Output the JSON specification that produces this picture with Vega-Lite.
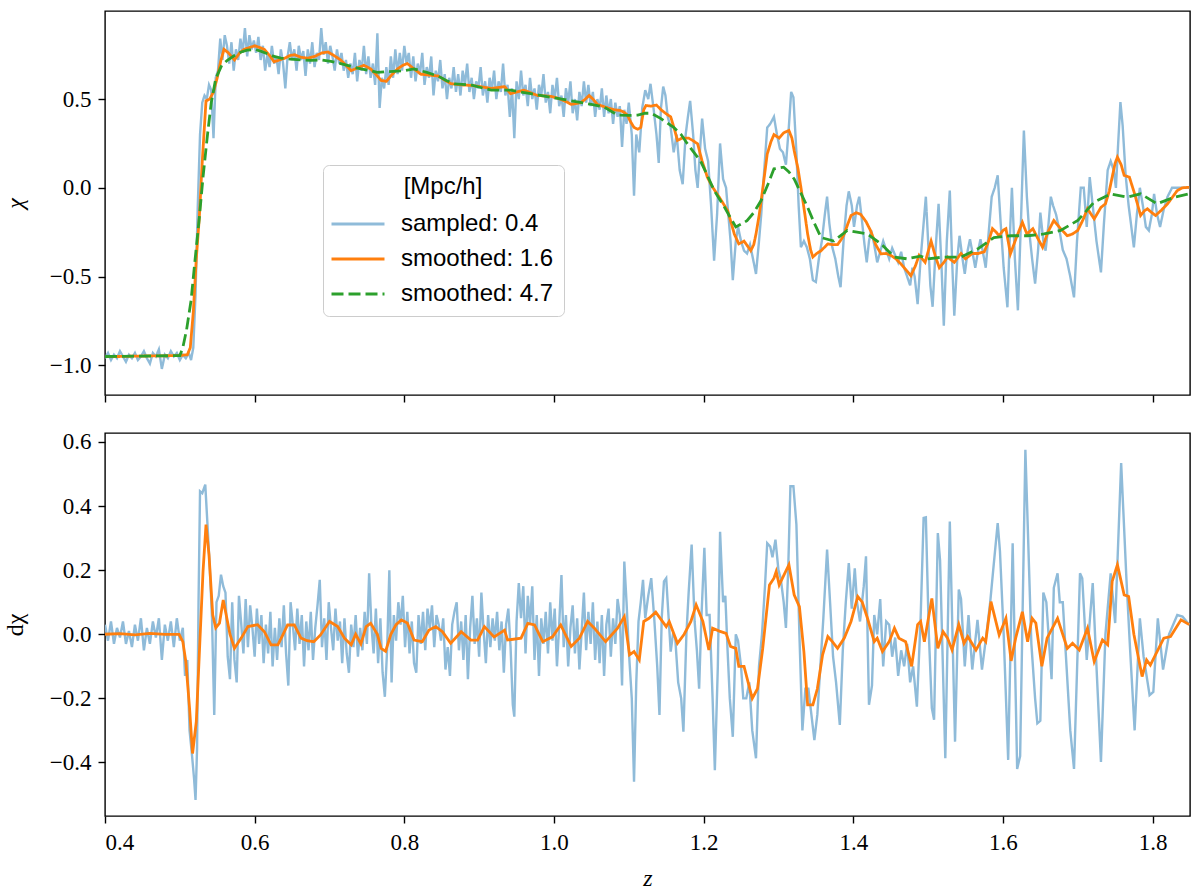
{
  "$schema": "https://vega.github.io/schema/vega-lite/v6.json",
  "padding": {"left": 2, "top": 10, "right": 0, "bottom": 0},
  "bounds": "flush",
  "spacing": 38,
  "datasets": {
    "tb": [
      {"z":0.400,"v":-0.96},{"z":0.404,"v":-0.93},{"z":0.408,"v":-0.97},{"z":0.412,"v":-0.94},{"z":0.416,"v":-0.96},{"z":0.420,"v":-0.92},
      {"z":0.424,"v":-0.95},{"z":0.428,"v":-0.98},{"z":0.432,"v":-0.94},{"z":0.436,"v":-0.96},{"z":0.440,"v":-0.93},{"z":0.444,"v":-0.97},
      {"z":0.448,"v":-0.95},{"z":0.452,"v":-0.92},{"z":0.456,"v":-0.96},{"z":0.460,"v":-0.99},{"z":0.464,"v":-0.93},{"z":0.468,"v":-0.95},
      {"z":0.472,"v":-0.91},{"z":0.476,"v":-1.02},{"z":0.480,"v":-0.94},{"z":0.484,"v":-0.96},{"z":0.488,"v":-0.92},{"z":0.492,"v":-0.95},
      {"z":0.496,"v":-0.93},{"z":0.500,"v":-0.97},{"z":0.504,"v":-0.94},{"z":0.508,"v":-0.96},{"z":0.512,"v":-0.93},{"z":0.515,"v":-0.97},
      {"z":0.518,"v":-0.90},{"z":0.521,"v":-0.60},{"z":0.524,"v":-0.10},{"z":0.527,"v":0.30},{"z":0.530,"v":0.48},{"z":0.533,"v":0.52},
      {"z":0.536,"v":0.50},{"z":0.539,"v":0.58},{"z":0.542,"v":0.55},{"z":0.545,"v":0.28},{"z":0.548,"v":0.62},{"z":0.551,"v":0.66},
      {"z":0.554,"v":0.84},{"z":0.557,"v":0.72},{"z":0.560,"v":0.86},{"z":0.563,"v":0.80},{"z":0.566,"v":0.70},{"z":0.569,"v":0.82},
      {"z":0.572,"v":0.66},{"z":0.575,"v":0.78},{"z":0.578,"v":0.72},{"z":0.581,"v":0.84},{"z":0.584,"v":0.76},{"z":0.587,"v":0.90},
      {"z":0.590,"v":0.74},{"z":0.593,"v":0.86},{"z":0.596,"v":0.78},{"z":0.599,"v":0.83},{"z":0.602,"v":0.76},{"z":0.605,"v":0.85},
      {"z":0.608,"v":0.72},{"z":0.611,"v":0.80},{"z":0.614,"v":0.66},{"z":0.617,"v":0.75},{"z":0.620,"v":0.68},{"z":0.623,"v":0.80},
      {"z":0.626,"v":0.70},{"z":0.629,"v":0.74},{"z":0.632,"v":0.64},{"z":0.635,"v":0.78},{"z":0.638,"v":0.70},{"z":0.641,"v":0.56},
      {"z":0.644,"v":0.74},{"z":0.647,"v":0.82},{"z":0.650,"v":0.72},{"z":0.653,"v":0.78},{"z":0.656,"v":0.66},{"z":0.659,"v":0.80},
      {"z":0.662,"v":0.72},{"z":0.665,"v":0.77},{"z":0.668,"v":0.63},{"z":0.671,"v":0.78},{"z":0.674,"v":0.70},{"z":0.677,"v":0.82},
      {"z":0.680,"v":0.68},{"z":0.683,"v":0.76},{"z":0.686,"v":0.72},{"z":0.689,"v":0.90},{"z":0.692,"v":0.75},{"z":0.695,"v":0.82},
      {"z":0.698,"v":0.70},{"z":0.701,"v":0.80},{"z":0.704,"v":0.74},{"z":0.707,"v":0.66},{"z":0.710,"v":0.78},{"z":0.713,"v":0.70},
      {"z":0.716,"v":0.76},{"z":0.719,"v":0.66},{"z":0.722,"v":0.72},{"z":0.725,"v":0.62},{"z":0.728,"v":0.70},{"z":0.731,"v":0.64},
      {"z":0.734,"v":0.76},{"z":0.737,"v":0.60},{"z":0.740,"v":0.72},{"z":0.743,"v":0.66},{"z":0.746,"v":0.80},{"z":0.749,"v":0.64},
      {"z":0.752,"v":0.74},{"z":0.755,"v":0.62},{"z":0.758,"v":0.70},{"z":0.761,"v":0.58},{"z":0.764,"v":0.87},{"z":0.767,"v":0.45},
      {"z":0.770,"v":0.62},{"z":0.773,"v":0.56},{"z":0.776,"v":0.68},{"z":0.779,"v":0.58},{"z":0.782,"v":0.74},{"z":0.785,"v":0.62},
      {"z":0.788,"v":0.78},{"z":0.791,"v":0.64},{"z":0.794,"v":0.76},{"z":0.797,"v":0.66},{"z":0.800,"v":0.80},{"z":0.803,"v":0.70},
      {"z":0.806,"v":0.76},{"z":0.809,"v":0.62},{"z":0.812,"v":0.74},{"z":0.815,"v":0.60},{"z":0.818,"v":0.70},{"z":0.821,"v":0.64},
      {"z":0.824,"v":0.76},{"z":0.827,"v":0.58},{"z":0.830,"v":0.68},{"z":0.833,"v":0.62},{"z":0.836,"v":0.74},{"z":0.839,"v":0.52},
      {"z":0.842,"v":0.66},{"z":0.845,"v":0.60},{"z":0.848,"v":0.72},{"z":0.851,"v":0.56},{"z":0.854,"v":0.64},{"z":0.857,"v":0.50},
      {"z":0.860,"v":0.62},{"z":0.863,"v":0.56},{"z":0.866,"v":0.68},{"z":0.869,"v":0.54},{"z":0.872,"v":0.64},{"z":0.875,"v":0.52},
      {"z":0.878,"v":0.66},{"z":0.881,"v":0.58},{"z":0.884,"v":0.70},{"z":0.887,"v":0.54},{"z":0.890,"v":0.62},{"z":0.893,"v":0.50},
      {"z":0.896,"v":0.60},{"z":0.899,"v":0.56},{"z":0.902,"v":0.68},{"z":0.905,"v":0.52},{"z":0.908,"v":0.60},{"z":0.911,"v":0.48},
      {"z":0.914,"v":0.62},{"z":0.917,"v":0.55},{"z":0.920,"v":0.66},{"z":0.923,"v":0.50},{"z":0.926,"v":0.60},{"z":0.929,"v":0.54},
      {"z":0.932,"v":0.70},{"z":0.935,"v":0.52},{"z":0.938,"v":0.58},{"z":0.941,"v":0.40},{"z":0.944,"v":0.56},{"z":0.947,"v":0.28},
      {"z":0.950,"v":0.60},{"z":0.953,"v":0.50},{"z":0.956,"v":0.66},{"z":0.959,"v":0.52},{"z":0.962,"v":0.58},{"z":0.965,"v":0.46},
      {"z":0.968,"v":0.62},{"z":0.971,"v":0.50},{"z":0.974,"v":0.56},{"z":0.977,"v":0.44},{"z":0.980,"v":0.58},{"z":0.983,"v":0.52},
      {"z":0.986,"v":0.64},{"z":0.989,"v":0.48},{"z":0.992,"v":0.54},{"z":0.995,"v":0.42},{"z":0.998,"v":0.58},{"z":1.001,"v":0.50},
      {"z":1.004,"v":0.62},{"z":1.007,"v":0.46},{"z":1.010,"v":0.52},{"z":1.013,"v":0.40},{"z":1.016,"v":0.56},{"z":1.019,"v":0.48},
      {"z":1.022,"v":0.60},{"z":1.025,"v":0.42},{"z":1.028,"v":0.50},{"z":1.031,"v":0.38},{"z":1.034,"v":0.54},{"z":1.037,"v":0.46},
      {"z":1.040,"v":0.60},{"z":1.043,"v":0.48},{"z":1.046,"v":0.58},{"z":1.049,"v":0.46},{"z":1.052,"v":0.54},{"z":1.055,"v":0.40},
      {"z":1.058,"v":0.50},{"z":1.061,"v":0.44},{"z":1.064,"v":0.56},{"z":1.067,"v":0.40},{"z":1.070,"v":0.52},{"z":1.073,"v":0.42},
      {"z":1.076,"v":0.50},{"z":1.079,"v":0.36},{"z":1.082,"v":0.48},{"z":1.085,"v":0.40},{"z":1.088,"v":0.46},{"z":1.091,"v":0.23},
      {"z":1.094,"v":0.44},{"z":1.097,"v":0.36},{"z":1.100,"v":0.48},{"z":1.104,"v":0.30},{"z":1.107,"v":-0.045},{"z":1.110,"v":0.30},
      {"z":1.114,"v":0.20},{"z":1.118,"v":0.45},{"z":1.122,"v":0.55},{"z":1.126,"v":0.50},{"z":1.129,"v":0.586},{"z":1.133,"v":0.45},
      {"z":1.137,"v":0.30},{"z":1.140,"v":0.14},{"z":1.143,"v":0.45},{"z":1.146,"v":0.57},{"z":1.149,"v":0.52},{"z":1.152,"v":0.40},
      {"z":1.156,"v":0.34},{"z":1.160,"v":0.20},{"z":1.164,"v":0.30},{"z":1.168,"v":0.10},{"z":1.172,"v":0.02},{"z":1.176,"v":0.30},
      {"z":1.179,"v":0.40},{"z":1.182,"v":0.49},{"z":1.186,"v":0.30},{"z":1.189,"v":0.10},{"z":1.192,"v":0.00},{"z":1.195,"v":0.20},
      {"z":1.198,"v":0.39},{"z":1.202,"v":0.22},{"z":1.206,"v":0.15},{"z":1.210,"v":-0.10},{"z":1.214,"v":-0.41},{"z":1.218,"v":-0.15},
      {"z":1.222,"v":0.25},{"z":1.226,"v":0.05},{"z":1.230,"v":0.00},{"z":1.233,"v":-0.15},{"z":1.236,"v":-0.30},{"z":1.239,"v":-0.52},
      {"z":1.243,"v":-0.30},{"z":1.246,"v":-0.22},{"z":1.250,"v":-0.30},{"z":1.254,"v":-0.354},{"z":1.258,"v":-0.37},{"z":1.262,"v":-0.32},
      {"z":1.266,"v":-0.40},{"z":1.270,"v":-0.485},{"z":1.274,"v":-0.30},{"z":1.277,"v":-0.15},{"z":1.281,"v":0.10},{"z":1.285,"v":0.34},
      {"z":1.289,"v":0.36},{"z":1.294,"v":0.40},{"z":1.298,"v":0.30},{"z":1.302,"v":0.22},{"z":1.306,"v":0.20},{"z":1.310,"v":0.13},
      {"z":1.314,"v":0.35},{"z":1.317,"v":0.54},{"z":1.320,"v":0.51},{"z":1.324,"v":0.20},{"z":1.327,"v":-0.10},{"z":1.330,"v":-0.335},
      {"z":1.334,"v":-0.30},{"z":1.338,"v":-0.335},{"z":1.342,"v":-0.40},{"z":1.346,"v":-0.52},{"z":1.350,"v":-0.53},{"z":1.354,"v":-0.40},
      {"z":1.358,"v":-0.30},{"z":1.362,"v":-0.15},{"z":1.365,"v":-0.05},{"z":1.368,"v":-0.20},{"z":1.372,"v":-0.335},{"z":1.376,"v":-0.40},
      {"z":1.380,"v":-0.50},{"z":1.383,"v":-0.56},{"z":1.387,"v":-0.30},{"z":1.391,"v":-0.10},{"z":1.394,"v":-0.02},{"z":1.398,"v":-0.10},
      {"z":1.401,"v":-0.22},{"z":1.405,"v":-0.10},{"z":1.408,"v":-0.05},{"z":1.412,"v":-0.20},{"z":1.415,"v":-0.32},{"z":1.418,"v":-0.42},
      {"z":1.421,"v":-0.30},{"z":1.424,"v":-0.24},{"z":1.428,"v":-0.32},{"z":1.432,"v":-0.42},{"z":1.436,"v":-0.36},{"z":1.440,"v":-0.30},
      {"z":1.444,"v":-0.35},{"z":1.448,"v":-0.40},{"z":1.452,"v":-0.34},{"z":1.456,"v":-0.38},{"z":1.460,"v":-0.42},{"z":1.464,"v":-0.36},
      {"z":1.468,"v":-0.45},{"z":1.472,"v":-0.50},{"z":1.476,"v":-0.55},{"z":1.479,"v":-0.45},{"z":1.482,"v":-0.50},{"z":1.486,"v":-0.655},
      {"z":1.490,"v":-0.40},{"z":1.494,"v":-0.20},{"z":1.497,"v":-0.05},{"z":1.500,"v":-0.30},{"z":1.503,"v":-0.55},{"z":1.506,"v":-0.67},
      {"z":1.510,"v":-0.35},{"z":1.514,"v":-0.09},{"z":1.518,"v":-0.45},{"z":1.521,"v":-0.777},{"z":1.525,"v":-0.30},{"z":1.529,"v":-0.015},
      {"z":1.532,"v":-0.40},{"z":1.535,"v":-0.72},{"z":1.539,"v":-0.40},{"z":1.542,"v":-0.27},{"z":1.546,"v":-0.40},{"z":1.549,"v":-0.485},
      {"z":1.553,"v":-0.35},{"z":1.556,"v":-0.29},{"z":1.560,"v":-0.38},{"z":1.563,"v":-0.45},{"z":1.567,"v":-0.35},{"z":1.570,"v":-0.29},
      {"z":1.574,"v":-0.38},{"z":1.577,"v":-0.45},{"z":1.581,"v":-0.25},{"z":1.585,"v":-0.05},{"z":1.589,"v":0.00},{"z":1.593,"v":0.07},
      {"z":1.597,"v":-0.20},{"z":1.601,"v":-0.45},{"z":1.606,"v":-0.673},{"z":1.609,"v":-0.30},{"z":1.612,"v":0.00},{"z":1.616,"v":-0.40},
      {"z":1.620,"v":-0.69},{"z":1.624,"v":-0.20},{"z":1.628,"v":0.323},{"z":1.632,"v":-0.05},{"z":1.635,"v":-0.24},{"z":1.639,"v":-0.40},
      {"z":1.643,"v":-0.54},{"z":1.647,"v":-0.35},{"z":1.650,"v":-0.14},{"z":1.654,"v":-0.30},{"z":1.657,"v":-0.354},{"z":1.661,"v":-0.20},
      {"z":1.664,"v":-0.05},{"z":1.667,"v":-0.10},{"z":1.671,"v":-0.15},{"z":1.676,"v":-0.25},{"z":1.680,"v":-0.35},{"z":1.685,"v":-0.40},
      {"z":1.690,"v":-0.50},{"z":1.695,"v":-0.617},{"z":1.699,"v":-0.30},{"z":1.704,"v":0.00},{"z":1.708,"v":0.00},{"z":1.712,"v":-0.22},
      {"z":1.716,"v":0.06},{"z":1.720,"v":-0.10},{"z":1.725,"v":-0.30},{"z":1.731,"v":-0.476},{"z":1.735,"v":-0.20},{"z":1.740,"v":0.10},
      {"z":1.744,"v":0.15},{"z":1.748,"v":0.10},{"z":1.751,"v":0.00},{"z":1.754,"v":0.25},{"z":1.757,"v":0.483},{"z":1.760,"v":0.35},
      {"z":1.764,"v":0.07},{"z":1.768,"v":-0.10},{"z":1.771,"v":-0.20},{"z":1.775,"v":-0.335},{"z":1.779,"v":-0.15},{"z":1.783,"v":0.00},
      {"z":1.787,"v":-0.10},{"z":1.791,"v":-0.22},{"z":1.795,"v":-0.24},{"z":1.799,"v":-0.15},{"z":1.802,"v":-0.034},{"z":1.806,"v":-0.15},
      {"z":1.810,"v":-0.22},{"z":1.815,"v":-0.12},{"z":1.820,"v":-0.05},{"z":1.826,"v":0.00},{"z":1.833,"v":0.00},{"z":1.840,"v":0.00},
      {"z":1.849,"v":0.00}
    ],
    "to": [
      {"z":0.400,"v":-0.950},{"z":0.420,"v":-0.950},{"z":0.440,"v":-0.948},{"z":0.460,"v":-0.947},{"z":0.480,"v":-0.946},{"z":0.500,"v":-0.945},
      {"z":0.510,"v":-0.940},{"z":0.514,"v":-0.900},{"z":0.518,"v":-0.700},{"z":0.522,"v":-0.400},{"z":0.526,"v":-0.170},{"z":0.530,"v":0.150},
      {"z":0.535,"v":0.490},{"z":0.540,"v":0.500},{"z":0.545,"v":0.540},{"z":0.550,"v":0.620},{"z":0.555,"v":0.720},{"z":0.559,"v":0.780},
      {"z":0.565,"v":0.760},{"z":0.573,"v":0.720},{"z":0.580,"v":0.760},{"z":0.586,"v":0.780},{"z":0.593,"v":0.790},{"z":0.600,"v":0.800},
      {"z":0.607,"v":0.790},{"z":0.613,"v":0.780},{"z":0.620,"v":0.745},{"z":0.626,"v":0.710},{"z":0.633,"v":0.720},{"z":0.640,"v":0.730},
      {"z":0.647,"v":0.745},{"z":0.653,"v":0.750},{"z":0.662,"v":0.735},{"z":0.671,"v":0.730},{"z":0.680,"v":0.740},{"z":0.690,"v":0.760},
      {"z":0.698,"v":0.765},{"z":0.706,"v":0.745},{"z":0.715,"v":0.720},{"z":0.722,"v":0.690},{"z":0.729,"v":0.660},{"z":0.737,"v":0.675},
      {"z":0.746,"v":0.690},{"z":0.755,"v":0.670},{"z":0.762,"v":0.640},{"z":0.769,"v":0.605},{"z":0.776,"v":0.600},{"z":0.784,"v":0.640},
      {"z":0.791,"v":0.670},{"z":0.798,"v":0.690},{"z":0.804,"v":0.700},{"z":0.813,"v":0.670},{"z":0.822,"v":0.640},{"z":0.833,"v":0.635},
      {"z":0.845,"v":0.630},{"z":0.853,"v":0.610},{"z":0.862,"v":0.587},{"z":0.875,"v":0.580},{"z":0.889,"v":0.577},{"z":0.902,"v":0.570},
      {"z":0.916,"v":0.560},{"z":0.925,"v":0.565},{"z":0.934,"v":0.570},{"z":0.942,"v":0.530},{"z":0.951,"v":0.540},{"z":0.960,"v":0.550},
      {"z":0.969,"v":0.535},{"z":0.978,"v":0.520},{"z":0.987,"v":0.518},{"z":0.996,"v":0.515},{"z":1.005,"v":0.505},{"z":1.014,"v":0.490},
      {"z":1.023,"v":0.470},{"z":1.030,"v":0.475},{"z":1.036,"v":0.480},{"z":1.042,"v":0.500},{"z":1.047,"v":0.520},{"z":1.052,"v":0.500},
      {"z":1.058,"v":0.470},{"z":1.065,"v":0.460},{"z":1.072,"v":0.450},{"z":1.080,"v":0.440},{"z":1.089,"v":0.435},{"z":1.094,"v":0.425},
      {"z":1.098,"v":0.410},{"z":1.102,"v":0.375},{"z":1.107,"v":0.340},{"z":1.112,"v":0.330},{"z":1.116,"v":0.340},{"z":1.120,"v":0.440},
      {"z":1.123,"v":0.464},{"z":1.129,"v":0.460},{"z":1.137,"v":0.466},{"z":1.143,"v":0.440},{"z":1.150,"v":0.417},{"z":1.156,"v":0.400},
      {"z":1.161,"v":0.330},{"z":1.165,"v":0.267},{"z":1.171,"v":0.280},{"z":1.180,"v":0.280},{"z":1.186,"v":0.265},{"z":1.192,"v":0.248},
      {"z":1.198,"v":0.150},{"z":1.205,"v":0.060},{"z":1.211,"v":0.010},{"z":1.218,"v":-0.034},{"z":1.225,"v":-0.080},{"z":1.232,"v":-0.128},
      {"z":1.237,"v":-0.200},{"z":1.241,"v":-0.260},{"z":1.247,"v":-0.316},{"z":1.254,"v":-0.300},{"z":1.259,"v":-0.330},{"z":1.263,"v":-0.354},
      {"z":1.267,"v":-0.320},{"z":1.270,"v":-0.260},{"z":1.274,"v":-0.160},{"z":1.277,"v":-0.070},{"z":1.281,"v":0.060},{"z":1.285,"v":0.190},
      {"z":1.290,"v":0.260},{"z":1.294,"v":0.300},{"z":1.301,"v":0.280},{"z":1.307,"v":0.310},{"z":1.314,"v":0.323},{"z":1.318,"v":0.280},
      {"z":1.321,"v":0.210},{"z":1.326,"v":0.110},{"z":1.330,"v":0.003},{"z":1.335,"v":-0.140},{"z":1.339,"v":-0.260},{"z":1.343,"v":-0.350},
      {"z":1.346,"v":-0.390},{"z":1.351,"v":-0.370},{"z":1.357,"v":-0.354},{"z":1.366,"v":-0.316},{"z":1.372,"v":-0.320},{"z":1.379,"v":-0.320},
      {"z":1.384,"v":-0.290},{"z":1.388,"v":-0.260},{"z":1.393,"v":-0.200},{"z":1.397,"v":-0.156},{"z":1.404,"v":-0.140},{"z":1.410,"v":-0.150},
      {"z":1.417,"v":-0.190},{"z":1.423,"v":-0.240},{"z":1.430,"v":-0.320},{"z":1.437,"v":-0.372},{"z":1.444,"v":-0.370},{"z":1.450,"v":-0.380},
      {"z":1.457,"v":-0.400},{"z":1.464,"v":-0.430},{"z":1.470,"v":-0.460},{"z":1.477,"v":-0.495},{"z":1.483,"v":-0.440},{"z":1.488,"v":-0.380},
      {"z":1.496,"v":-0.420},{"z":1.500,"v":-0.360},{"z":1.504,"v":-0.300},{"z":1.510,"v":-0.390},{"z":1.515,"v":-0.450},{"z":1.521,"v":-0.420},
      {"z":1.526,"v":-0.390},{"z":1.535,"v":-0.420},{"z":1.544,"v":-0.370},{"z":1.550,"v":-0.400},{"z":1.559,"v":-0.370},{"z":1.567,"v":-0.370},
      {"z":1.575,"v":-0.360},{"z":1.581,"v":-0.300},{"z":1.586,"v":-0.230},{"z":1.591,"v":-0.250},{"z":1.595,"v":-0.270},{"z":1.600,"v":-0.240},
      {"z":1.604,"v":-0.230},{"z":1.610,"v":-0.372},{"z":1.618,"v":-0.280},{"z":1.626,"v":-0.194},{"z":1.632,"v":-0.260},{"z":1.640,"v":-0.230},
      {"z":1.646,"v":-0.280},{"z":1.653,"v":-0.335},{"z":1.660,"v":-0.250},{"z":1.668,"v":-0.184},{"z":1.677,"v":-0.230},{"z":1.686,"v":-0.270},
      {"z":1.693,"v":-0.260},{"z":1.700,"v":-0.240},{"z":1.707,"v":-0.180},{"z":1.713,"v":-0.118},{"z":1.722,"v":-0.175},{"z":1.731,"v":-0.110},
      {"z":1.737,"v":-0.090},{"z":1.742,"v":-0.020},{"z":1.746,"v":0.060},{"z":1.750,"v":0.140},{"z":1.753,"v":0.173},{"z":1.758,"v":0.130},
      {"z":1.762,"v":0.070},{"z":1.769,"v":0.060},{"z":1.776,"v":-0.034},{"z":1.784,"v":-0.156},{"z":1.789,"v":-0.130},{"z":1.793,"v":-0.118},
      {"z":1.799,"v":-0.140},{"z":1.804,"v":-0.156},{"z":1.812,"v":-0.125},{"z":1.820,"v":-0.090},{"z":1.827,"v":-0.050},{"z":1.833,"v":-0.015},
      {"z":1.840,"v":0.000},{"z":1.849,"v":0.003}
    ],
    "tg": [
      {"z":0.400,"v":-0.950},{"z":0.450,"v":-0.948},{"z":0.500,"v":-0.945},{"z":0.504,"v":-0.900},{"z":0.509,"v":-0.800},{"z":0.515,"v":-0.635},
      {"z":0.520,"v":-0.420},{"z":0.526,"v":-0.170},{"z":0.531,"v":0.060},{"z":0.537,"v":0.300},{"z":0.542,"v":0.480},{"z":0.548,"v":0.615},
      {"z":0.556,"v":0.690},{"z":0.564,"v":0.720},{"z":0.573,"v":0.745},{"z":0.582,"v":0.765},{"z":0.590,"v":0.775},{"z":0.600,"v":0.780},
      {"z":0.608,"v":0.770},{"z":0.617,"v":0.755},{"z":0.626,"v":0.740},{"z":0.635,"v":0.730},{"z":0.648,"v":0.725},{"z":0.662,"v":0.720},
      {"z":0.675,"v":0.718},{"z":0.689,"v":0.720},{"z":0.702,"v":0.712},{"z":0.715,"v":0.700},{"z":0.728,"v":0.685},{"z":0.742,"v":0.670},
      {"z":0.755,"v":0.660},{"z":0.764,"v":0.650},{"z":0.780,"v":0.655},{"z":0.800,"v":0.660},{"z":0.813,"v":0.670},{"z":0.830,"v":0.650},
      {"z":0.845,"v":0.630},{"z":0.856,"v":0.605},{"z":0.867,"v":0.585},{"z":0.889,"v":0.580},{"z":0.902,"v":0.565},{"z":0.916,"v":0.550},
      {"z":0.942,"v":0.550},{"z":0.969,"v":0.530},{"z":0.996,"v":0.510},{"z":1.023,"v":0.490},{"z":1.050,"v":0.470},{"z":1.067,"v":0.455},
      {"z":1.077,"v":0.430},{"z":1.085,"v":0.410},{"z":1.100,"v":0.408},{"z":1.112,"v":0.410},{"z":1.122,"v":0.420},{"z":1.130,"v":0.420},
      {"z":1.143,"v":0.390},{"z":1.160,"v":0.340},{"z":1.170,"v":0.300},{"z":1.178,"v":0.250},{"z":1.187,"v":0.200},{"z":1.196,"v":0.150},
      {"z":1.205,"v":0.070},{"z":1.214,"v":-0.015},{"z":1.228,"v":-0.110},{"z":1.236,"v":-0.170},{"z":1.243,"v":-0.220},{"z":1.250,"v":-0.205},
      {"z":1.258,"v":-0.185},{"z":1.267,"v":-0.140},{"z":1.277,"v":-0.070},{"z":1.286,"v":0.020},{"z":1.294,"v":0.107},{"z":1.307,"v":0.116},
      {"z":1.314,"v":0.090},{"z":1.321,"v":0.050},{"z":1.330,"v":-0.030},{"z":1.339,"v":-0.110},{"z":1.348,"v":-0.200},{"z":1.357,"v":-0.280},
      {"z":1.374,"v":-0.300},{"z":1.392,"v":-0.240},{"z":1.405,"v":-0.250},{"z":1.419,"v":-0.260},{"z":1.437,"v":-0.316},{"z":1.455,"v":-0.390},
      {"z":1.472,"v":-0.400},{"z":1.490,"v":-0.385},{"z":1.499,"v":-0.400},{"z":1.521,"v":-0.390},{"z":1.544,"v":-0.390},{"z":1.566,"v":-0.345},
      {"z":1.588,"v":-0.280},{"z":1.611,"v":-0.270},{"z":1.633,"v":-0.270},{"z":1.655,"v":-0.260},{"z":1.677,"v":-0.240},{"z":1.700,"v":-0.184},
      {"z":1.722,"v":-0.080},{"z":1.744,"v":-0.034},{"z":1.766,"v":-0.053},{"z":1.784,"v":-0.034},{"z":1.806,"v":-0.090},{"z":1.829,"v":-0.053},
      {"z":1.849,"v":-0.034}
    ],
    "bb": [
      {"z":0.400,"v":0.03},{"z":0.404,"v":-0.02},{"z":0.408,"v":0.04},{"z":0.412,"v":-0.03},{"z":0.416,"v":0.02},{"z":0.420,"v":-0.01},
      {"z":0.424,"v":0.04},{"z":0.428,"v":-0.03},{"z":0.432,"v":0.01},{"z":0.436,"v":-0.04},{"z":0.440,"v":0.03},{"z":0.444,"v":-0.02},
      {"z":0.448,"v":0.05},{"z":0.452,"v":-0.05},{"z":0.456,"v":0.02},{"z":0.460,"v":-0.03},{"z":0.464,"v":0.04},{"z":0.468,"v":-0.01},
      {"z":0.472,"v":0.05},{"z":0.476,"v":-0.08},{"z":0.480,"v":0.03},{"z":0.484,"v":-0.02},{"z":0.488,"v":0.04},{"z":0.492,"v":-0.04},
      {"z":0.496,"v":0.05},{"z":0.500,"v":-0.02},{"z":0.504,"v":0.02},{"z":0.507,"v":-0.13},{"z":0.510,"v":-0.08},{"z":0.513,"v":-0.30},
      {"z":0.516,"v":-0.37},{"z":0.519,"v":-0.45},{"z":0.521,"v":-0.517},{"z":0.523,"v":-0.36},{"z":0.525,"v":0.10},{"z":0.527,"v":0.446},
      {"z":0.530,"v":0.44},{"z":0.534,"v":0.467},{"z":0.537,"v":0.34},{"z":0.540,"v":0.21},{"z":0.543,"v":0.05},{"z":0.546,"v":-0.252},
      {"z":0.549,"v":0.10},{"z":0.552,"v":0.12},{"z":0.555,"v":0.186},{"z":0.558,"v":0.15},{"z":0.561,"v":0.13},{"z":0.564,"v":-0.07},
      {"z":0.567,"v":-0.14},{"z":0.570,"v":0.10},{"z":0.573,"v":-0.08},{"z":0.576,"v":-0.15},{"z":0.579,"v":0.12},{"z":0.582,"v":0.035},
      {"z":0.585,"v":-0.06},{"z":0.588,"v":0.11},{"z":0.591,"v":-0.04},{"z":0.594,"v":0.09},{"z":0.597,"v":0.02},{"z":0.600,"v":-0.07},
      {"z":0.603,"v":0.08},{"z":0.606,"v":-0.03},{"z":0.609,"v":0.06},{"z":0.612,"v":-0.09},{"z":0.615,"v":0.03},{"z":0.618,"v":-0.06},
      {"z":0.621,"v":0.07},{"z":0.624,"v":-0.10},{"z":0.627,"v":0.02},{"z":0.630,"v":-0.08},{"z":0.633,"v":0.05},{"z":0.636,"v":-0.04},
      {"z":0.639,"v":0.09},{"z":0.642,"v":-0.06},{"z":0.645,"v":-0.16},{"z":0.648,"v":0.10},{"z":0.651,"v":0.03},{"z":0.654,"v":-0.05},
      {"z":0.657,"v":0.08},{"z":0.660,"v":-0.03},{"z":0.663,"v":0.06},{"z":0.666,"v":-0.10},{"z":0.669,"v":0.04},{"z":0.672,"v":-0.05},
      {"z":0.675,"v":0.07},{"z":0.678,"v":-0.08},{"z":0.681,"v":0.02},{"z":0.684,"v":0.09},{"z":0.687,"v":0.17},{"z":0.690,"v":-0.04},
      {"z":0.693,"v":0.05},{"z":0.696,"v":-0.08},{"z":0.699,"v":0.10},{"z":0.702,"v":0.02},{"z":0.705,"v":-0.05},{"z":0.708,"v":0.08},
      {"z":0.711,"v":-0.02},{"z":0.714,"v":0.04},{"z":0.717,"v":-0.09},{"z":0.720,"v":0.05},{"z":0.723,"v":-0.06},{"z":0.726,"v":-0.12},
      {"z":0.729,"v":0.03},{"z":0.732,"v":-0.04},{"z":0.735,"v":0.06},{"z":0.738,"v":-0.07},{"z":0.741,"v":0.02},{"z":0.744,"v":-0.05},
      {"z":0.747,"v":0.07},{"z":0.750,"v":-0.03},{"z":0.753,"v":0.19},{"z":0.756,"v":0.03},{"z":0.759,"v":-0.06},{"z":0.762,"v":0.08},
      {"z":0.765,"v":-0.09},{"z":0.768,"v":0.05},{"z":0.771,"v":-0.12},{"z":0.774,"v":-0.195},{"z":0.777,"v":-0.05},{"z":0.780,"v":0.20},
      {"z":0.783,"v":-0.15},{"z":0.786,"v":0.06},{"z":0.789,"v":-0.02},{"z":0.792,"v":0.10},{"z":0.795,"v":0.03},{"z":0.798,"v":0.12},
      {"z":0.801,"v":-0.04},{"z":0.804,"v":0.07},{"z":0.807,"v":-0.06},{"z":0.810,"v":0.04},{"z":0.813,"v":-0.09},{"z":0.816,"v":-0.12},
      {"z":0.819,"v":0.06},{"z":0.822,"v":-0.03},{"z":0.825,"v":0.07},{"z":0.828,"v":-0.05},{"z":0.831,"v":0.08},{"z":0.834,"v":0.02},
      {"z":0.837,"v":0.09},{"z":0.840,"v":-0.04},{"z":0.843,"v":0.06},{"z":0.846,"v":0.03},{"z":0.849,"v":-0.02},{"z":0.852,"v":0.05},
      {"z":0.855,"v":-0.11},{"z":0.858,"v":-0.04},{"z":0.861,"v":-0.13},{"z":0.864,"v":0.03},{"z":0.867,"v":0.07},{"z":0.870,"v":0.10},
      {"z":0.873,"v":-0.05},{"z":0.876,"v":0.04},{"z":0.879,"v":-0.08},{"z":0.882,"v":0.06},{"z":0.885,"v":-0.14},{"z":0.888,"v":0.02},
      {"z":0.891,"v":0.12},{"z":0.894,"v":-0.03},{"z":0.897,"v":0.05},{"z":0.900,"v":-0.07},{"z":0.903,"v":0.13},{"z":0.906,"v":0.01},
      {"z":0.909,"v":-0.09},{"z":0.912,"v":0.06},{"z":0.915,"v":-0.04},{"z":0.918,"v":0.05},{"z":0.921,"v":-0.02},{"z":0.924,"v":0.07},
      {"z":0.927,"v":-0.05},{"z":0.930,"v":0.04},{"z":0.933,"v":-0.12},{"z":0.936,"v":0.03},{"z":0.939,"v":0.08},{"z":0.942,"v":-0.04},
      {"z":0.945,"v":-0.22},{"z":0.947,"v":-0.257},{"z":0.950,"v":0.04},{"z":0.953,"v":0.16},{"z":0.956,"v":0.05},{"z":0.959,"v":0.15},
      {"z":0.962,"v":-0.06},{"z":0.965,"v":0.12},{"z":0.968,"v":0.03},{"z":0.971,"v":0.15},{"z":0.974,"v":-0.08},{"z":0.977,"v":0.06},
      {"z":0.980,"v":-0.13},{"z":0.983,"v":0.05},{"z":0.986,"v":-0.03},{"z":0.989,"v":0.07},{"z":0.992,"v":-0.06},{"z":0.995,"v":0.10},
      {"z":0.998,"v":-0.02},{"z":1.001,"v":0.08},{"z":1.004,"v":-0.10},{"z":1.007,"v":0.03},{"z":1.010,"v":0.185},{"z":1.013,"v":-0.04},
      {"z":1.016,"v":0.06},{"z":1.019,"v":-0.10},{"z":1.022,"v":0.02},{"z":1.025,"v":0.09},{"z":1.028,"v":-0.06},{"z":1.031,"v":0.05},
      {"z":1.034,"v":-0.11},{"z":1.037,"v":0.01},{"z":1.040,"v":0.13},{"z":1.043,"v":-0.05},{"z":1.046,"v":0.07},{"z":1.049,"v":-0.03},
      {"z":1.052,"v":0.10},{"z":1.055,"v":-0.08},{"z":1.058,"v":0.04},{"z":1.061,"v":-0.09},{"z":1.064,"v":0.06},{"z":1.067,"v":-0.13},
      {"z":1.070,"v":0.03},{"z":1.073,"v":0.08},{"z":1.076,"v":-0.07},{"z":1.079,"v":0.05},{"z":1.082,"v":-0.03},{"z":1.085,"v":0.11},
      {"z":1.088,"v":0.06},{"z":1.091,"v":-0.16},{"z":1.094,"v":0.227},{"z":1.097,"v":0.10},{"z":1.100,"v":-0.05},{"z":1.104,"v":-0.20},
      {"z":1.107,"v":-0.46},{"z":1.110,"v":-0.15},{"z":1.113,"v":0.04},{"z":1.116,"v":0.10},{"z":1.119,"v":0.17},{"z":1.122,"v":0.05},
      {"z":1.126,"v":0.12},{"z":1.130,"v":0.175},{"z":1.134,"v":0.05},{"z":1.138,"v":-0.10},{"z":1.141,"v":-0.252},{"z":1.144,"v":0.05},
      {"z":1.147,"v":0.165},{"z":1.150,"v":0.175},{"z":1.153,"v":0.06},{"z":1.156,"v":-0.054},{"z":1.159,"v":0.00},{"z":1.162,"v":-0.01},
      {"z":1.166,"v":-0.15},{"z":1.170,"v":-0.20},{"z":1.173,"v":-0.304},{"z":1.177,"v":0.00},{"z":1.180,"v":0.13},{"z":1.184,"v":0.28},
      {"z":1.188,"v":0.04},{"z":1.191,"v":-0.05},{"z":1.194,"v":-0.17},{"z":1.197,"v":0.05},{"z":1.201,"v":0.27},{"z":1.204,"v":0.06},
      {"z":1.208,"v":0.06},{"z":1.212,"v":-0.20},{"z":1.215,"v":-0.424},{"z":1.219,"v":-0.10},{"z":1.222,"v":0.32},{"z":1.226,"v":0.10},
      {"z":1.229,"v":0.12},{"z":1.232,"v":-0.05},{"z":1.235,"v":-0.20},{"z":1.239,"v":-0.32},{"z":1.243,"v":0.00},{"z":1.246,"v":-0.02},
      {"z":1.250,"v":-0.10},{"z":1.253,"v":-0.20},{"z":1.257,"v":-0.20},{"z":1.261,"v":-0.15},{"z":1.265,"v":-0.30},{"z":1.270,"v":-0.387},
      {"z":1.274,"v":-0.10},{"z":1.278,"v":0.00},{"z":1.282,"v":0.15},{"z":1.285,"v":0.284},{"z":1.289,"v":0.274},{"z":1.292,"v":0.24},
      {"z":1.296,"v":0.295},{"z":1.300,"v":0.20},{"z":1.303,"v":0.175},{"z":1.307,"v":0.10},{"z":1.310,"v":0.02},{"z":1.313,"v":0.20},
      {"z":1.316,"v":0.462},{"z":1.320,"v":0.462},{"z":1.324,"v":0.342},{"z":1.328,"v":0.00},{"z":1.332,"v":-0.30},{"z":1.336,"v":-0.17},
      {"z":1.340,"v":-0.17},{"z":1.344,"v":-0.25},{"z":1.348,"v":-0.33},{"z":1.352,"v":-0.25},{"z":1.356,"v":-0.10},{"z":1.360,"v":0.05},
      {"z":1.365,"v":0.264},{"z":1.369,"v":0.10},{"z":1.373,"v":-0.07},{"z":1.377,"v":-0.15},{"z":1.382,"v":-0.283},{"z":1.386,"v":-0.05},
      {"z":1.390,"v":0.10},{"z":1.394,"v":0.222},{"z":1.398,"v":0.08},{"z":1.402,"v":0.206},{"z":1.405,"v":0.10},{"z":1.409,"v":0.04},
      {"z":1.414,"v":0.15},{"z":1.417,"v":0.243},{"z":1.421,"v":-0.22},{"z":1.425,"v":-0.16},{"z":1.428,"v":0.06},{"z":1.432,"v":0.00},
      {"z":1.436,"v":0.11},{"z":1.440,"v":-0.10},{"z":1.444,"v":0.04},{"z":1.448,"v":0.03},{"z":1.452,"v":-0.07},{"z":1.456,"v":-0.01},
      {"z":1.460,"v":-0.13},{"z":1.464,"v":-0.05},{"z":1.468,"v":-0.10},{"z":1.472,"v":-0.03},{"z":1.476,"v":-0.15},{"z":1.480,"v":-0.10},
      {"z":1.485,"v":-0.226},{"z":1.490,"v":0.05},{"z":1.494,"v":0.363},{"z":1.497,"v":0.365},{"z":1.501,"v":0.00},{"z":1.505,"v":-0.23},
      {"z":1.508,"v":-0.267},{"z":1.513,"v":0.316},{"z":1.516,"v":0.23},{"z":1.523,"v":-0.387},{"z":1.529,"v":0.352},{"z":1.536,"v":-0.335},
      {"z":1.541,"v":0.14},{"z":1.544,"v":0.11},{"z":1.549,"v":-0.10},{"z":1.554,"v":0.06},{"z":1.559,"v":-0.11},{"z":1.566,"v":0.045},
      {"z":1.572,"v":-0.11},{"z":1.578,"v":0.00},{"z":1.583,"v":0.10},{"z":1.587,"v":0.20},{"z":1.593,"v":0.347},{"z":1.596,"v":0.26},
      {"z":1.601,"v":0.00},{"z":1.607,"v":-0.392},{"z":1.613,"v":0.284},{"z":1.619,"v":-0.42},{"z":1.623,"v":-0.38},{"z":1.630,"v":0.576},
      {"z":1.633,"v":0.35},{"z":1.638,"v":-0.03},{"z":1.643,"v":-0.20},{"z":1.646,"v":-0.278},{"z":1.650,"v":-0.27},{"z":1.654,"v":0.13},
      {"z":1.658,"v":0.10},{"z":1.665,"v":-0.14},{"z":1.668,"v":0.145},{"z":1.673,"v":0.19},{"z":1.676,"v":0.10},{"z":1.680,"v":0.10},
      {"z":1.685,"v":-0.10},{"z":1.690,"v":-0.30},{"z":1.695,"v":-0.42},{"z":1.703,"v":0.19},{"z":1.706,"v":0.175},{"z":1.712,"v":-0.08},
      {"z":1.720,"v":0.16},{"z":1.725,"v":-0.10},{"z":1.731,"v":-0.398},{"z":1.737,"v":0.00},{"z":1.744,"v":0.19},{"z":1.750,"v":0.035},
      {"z":1.758,"v":0.534},{"z":1.765,"v":0.175},{"z":1.770,"v":-0.05},{"z":1.776,"v":-0.30},{"z":1.783,"v":0.05},{"z":1.788,"v":-0.07},
      {"z":1.796,"v":-0.19},{"z":1.801,"v":-0.18},{"z":1.807,"v":0.05},{"z":1.814,"v":-0.11},{"z":1.822,"v":0.00},{"z":1.833,"v":0.06},
      {"z":1.840,"v":0.055},{"z":1.849,"v":0.03}
    ],
    "bo": [
      {"z":0.400,"v":0.000},{"z":0.420,"v":0.002},{"z":0.440,"v":-0.002},{"z":0.460,"v":0.003},{"z":0.480,"v":0.000},{"z":0.499,"v":0.000},
      {"z":0.504,"v":-0.023},{"z":0.508,"v":-0.085},{"z":0.513,"v":-0.230},{"z":0.517,"v":-0.372},{"z":0.522,"v":-0.273},{"z":0.526,"v":-0.064},
      {"z":0.531,"v":0.196},{"z":0.535,"v":0.342},{"z":0.539,"v":0.248},{"z":0.544,"v":0.060},{"z":0.548,"v":0.020},{"z":0.553,"v":0.035},
      {"z":0.558,"v":0.107},{"z":0.562,"v":0.060},{"z":0.567,"v":0.000},{"z":0.573,"v":-0.044},{"z":0.582,"v":-0.012},{"z":0.591,"v":0.024},
      {"z":0.604,"v":0.030},{"z":0.613,"v":0.008},{"z":0.622,"v":-0.033},{"z":0.631,"v":-0.033},{"z":0.637,"v":-0.005},{"z":0.644,"v":0.029},
      {"z":0.653,"v":0.029},{"z":0.662,"v":-0.012},{"z":0.670,"v":-0.020},{"z":0.679,"v":-0.023},{"z":0.688,"v":-0.002},{"z":0.700,"v":0.040},
      {"z":0.711,"v":0.024},{"z":0.720,"v":-0.012},{"z":0.729,"v":-0.033},{"z":0.735,"v":0.000},{"z":0.742,"v":-0.030},{"z":0.749,"v":0.024},
      {"z":0.755,"v":0.034},{"z":0.764,"v":0.000},{"z":0.769,"v":-0.044},{"z":0.775,"v":-0.053},{"z":0.782,"v":0.000},{"z":0.789,"v":0.030},
      {"z":0.796,"v":0.045},{"z":0.804,"v":0.035},{"z":0.813,"v":-0.018},{"z":0.824,"v":-0.023},{"z":0.833,"v":0.013},{"z":0.842,"v":0.024},
      {"z":0.851,"v":0.008},{"z":0.862,"v":-0.028},{"z":0.876,"v":0.008},{"z":0.889,"v":-0.018},{"z":0.898,"v":-0.018},{"z":0.907,"v":0.024},
      {"z":0.920,"v":-0.008},{"z":0.934,"v":0.013},{"z":0.938,"v":-0.018},{"z":0.956,"v":-0.012},{"z":0.965,"v":0.034},{"z":0.974,"v":0.029},
      {"z":0.985,"v":-0.023},{"z":0.998,"v":-0.008},{"z":1.009,"v":0.029},{"z":1.023,"v":-0.038},{"z":1.034,"v":-0.012},{"z":1.045,"v":0.040},
      {"z":1.054,"v":0.019},{"z":1.069,"v":-0.023},{"z":1.085,"v":0.019},{"z":1.094,"v":0.055},{"z":1.101,"v":-0.064},{"z":1.107,"v":-0.054},
      {"z":1.114,"v":-0.080},{"z":1.120,"v":0.040},{"z":1.127,"v":0.050},{"z":1.136,"v":0.069},{"z":1.150,"v":0.024},{"z":1.154,"v":0.040},
      {"z":1.165,"v":-0.028},{"z":1.174,"v":0.000},{"z":1.183,"v":0.040},{"z":1.190,"v":0.092},{"z":1.199,"v":0.040},{"z":1.207,"v":-0.049},
      {"z":1.212,"v":0.019},{"z":1.221,"v":0.010},{"z":1.230,"v":0.003},{"z":1.236,"v":-0.038},{"z":1.243,"v":-0.044},{"z":1.247,"v":-0.100},
      {"z":1.254,"v":-0.100},{"z":1.265,"v":-0.200},{"z":1.272,"v":-0.170},{"z":1.279,"v":-0.044},{"z":1.288,"v":0.154},{"z":1.294,"v":0.175},
      {"z":1.297,"v":0.196},{"z":1.301,"v":0.154},{"z":1.314,"v":0.217},{"z":1.321,"v":0.123},{"z":1.328,"v":0.086},{"z":1.334,"v":-0.054},
      {"z":1.339,"v":-0.220},{"z":1.346,"v":-0.220},{"z":1.352,"v":-0.170},{"z":1.359,"v":-0.064},{"z":1.366,"v":-0.007},{"z":1.372,"v":-0.023},
      {"z":1.379,"v":-0.044},{"z":1.388,"v":-0.012},{"z":1.397,"v":0.040},{"z":1.406,"v":0.118},{"z":1.412,"v":0.100},{"z":1.419,"v":0.050},
      {"z":1.428,"v":-0.023},{"z":1.432,"v":-0.012},{"z":1.439,"v":-0.054},{"z":1.448,"v":-0.023},{"z":1.455,"v":0.019},{"z":1.461,"v":-0.012},
      {"z":1.470,"v":-0.023},{"z":1.478,"v":-0.100},{"z":1.486,"v":0.030},{"z":1.490,"v":0.040},{"z":1.495,"v":-0.023},{"z":1.505,"v":0.112},
      {"z":1.513,"v":-0.044},{"z":1.520,"v":0.008},{"z":1.526,"v":-0.012},{"z":1.532,"v":-0.049},{"z":1.541,"v":0.030},{"z":1.548,"v":-0.028},
      {"z":1.553,"v":-0.007},{"z":1.564,"v":-0.049},{"z":1.573,"v":-0.012},{"z":1.577,"v":-0.023},{"z":1.584,"v":0.102},{"z":1.595,"v":-0.002},
      {"z":1.604,"v":0.050},{"z":1.611,"v":-0.083},{"z":1.617,"v":-0.012},{"z":1.626,"v":0.070},{"z":1.633,"v":-0.023},{"z":1.639,"v":0.050},
      {"z":1.644,"v":0.035},{"z":1.652,"v":-0.100},{"z":1.659,"v":-0.012},{"z":1.673,"v":0.050},{"z":1.686,"v":-0.044},{"z":1.693,"v":-0.028},
      {"z":1.702,"v":-0.049},{"z":1.713,"v":0.019},{"z":1.722,"v":-0.085},{"z":1.733,"v":-0.018},{"z":1.740,"v":-0.033},{"z":1.746,"v":0.165},
      {"z":1.753,"v":0.217},{"z":1.762,"v":0.123},{"z":1.768,"v":0.118},{"z":1.775,"v":0.000},{"z":1.786,"v":-0.132},{"z":1.792,"v":-0.080},
      {"z":1.797,"v":-0.096},{"z":1.815,"v":-0.012},{"z":1.824,"v":-0.007},{"z":1.838,"v":0.045},{"z":1.849,"v":0.030}
    ]
  },
  "vconcat": [
    {
      "width": 1085,
      "height": 384,
      "encoding": {
        "x": {"field": "z", "type": "quantitative", "scale": {"domain": [0.4, 1.85], "nice": false, "zero": false},
              "axis": {"values": [0.4, 0.6, 0.8, 1.0, 1.2, 1.4, 1.6, 1.8], "labels": false, "title": null}},
        "y": {"field": "v", "type": "quantitative", "scale": {"domain": [-1.167, 0.996], "nice": false, "zero": false},
              "axis": {"values": [-1.0, -0.5, 0.0, 0.5], "format": ".1f", "title": "χ", "titleFontStyle": "italic",
                       "labelFont": "Liberation Serif", "labelFontSize": 23, "labelColor": "black", "labelPadding": 7}}
      },
      "layer": [
        {
          "data": {"name": "tb"},
          "mark": {"type": "line", "strokeWidth": 2.4, "clip": true},
          "encoding": {
            "color": {"datum": "sampled: 0.4", "type": "nominal",
                      "scale": {"domain": ["sampled: 0.4", "smoothed: 1.6", "smoothed: 4.7"], "range": ["#8fbbd9", "#ff7f0e", "#2ca02c"]},
                      "legend": {"title": "[Mpc/h]"}},
            "strokeDash": {"datum": "sampled: 0.4", "type": "nominal",
                           "scale": {"domain": ["sampled: 0.4", "smoothed: 1.6", "smoothed: 4.7"], "range": [[1, 0], [1, 0], [12, 5]]},
                           "legend": {"title": "[Mpc/h]"}}
          }
        },
        {
          "data": {"name": "to"},
          "mark": {"type": "line", "strokeWidth": 2.8, "clip": true},
          "encoding": {
            "color": {"datum": "smoothed: 1.6", "type": "nominal"},
            "strokeDash": {"datum": "smoothed: 1.6", "type": "nominal"}
          }
        },
        {
          "data": {"name": "tg"},
          "mark": {"type": "line", "strokeWidth": 2.8, "clip": true},
          "encoding": {
            "color": {"datum": "smoothed: 4.7", "type": "nominal"},
            "strokeDash": {"datum": "smoothed: 4.7", "type": "nominal"}
          }
        }
      ]
    },
    {
      "width": 1085,
      "height": 383,
      "encoding": {
        "x": {"field": "z", "type": "quantitative", "scale": {"domain": [0.4, 1.85], "nice": false, "zero": false},
              "axis": {"values": [0.4, 0.6, 0.8, 1.0, 1.2, 1.4, 1.6, 1.8], "format": ".1f", "title": "z", "titleFontStyle": "italic",
                       "labelFont": "Liberation Serif", "labelFontSize": 23, "labelColor": "black", "labelPadding": 8}},
        "y": {"field": "v", "type": "quantitative", "scale": {"domain": [-0.567, 0.628], "nice": false, "zero": false},
              "axis": {"values": [-0.4, -0.2, 0.0, 0.2, 0.4, 0.6], "format": ".1f", "title": "dχ",
                       "labelFont": "Liberation Serif", "labelFontSize": 23, "labelColor": "black", "labelPadding": 7}}
      },
      "layer": [
        {"data": {"name": "bb"}, "mark": {"type": "line", "color": "#8fbbd9", "strokeWidth": 2.4, "clip": true}},
        {"data": {"name": "bo"}, "mark": {"type": "line", "color": "#ff7f0e", "strokeWidth": 2.8, "clip": true}}
      ]
    }
  ],
  "resolve": {"scale": {"color": "independent", "strokeDash": "independent"}},
  "config": {
    "view": {"stroke": "black", "strokeWidth": 1.4},
    "axis": {
      "domain": false, "grid": false,
      "tickColor": "black", "tickSize": 7, "tickWidth": 1.4,
      "titleFont": "Liberation Serif", "titleFontSize": 24, "titleFontWeight": "normal", "titleColor": "black"
    },
    "axisY": {"minExtent": 56, "maxExtent": 56, "titlePadding": 22},
    "axisX": {"titlePadding": 12},
    "legend": {
      "orient": "none", "legendX": 218, "legendY": 154,
      "titleFont": "Liberation Sans", "titleFontSize": 24, "titleFontWeight": "normal", "titleColor": "black", "titleAnchor": "middle",
      "titlePadding": 10,
      "labelFont": "Liberation Sans", "labelFontSize": 24, "labelColor": "black", "labelLimit": 300, "labelOffset": 28,
      "symbolType": "M-2,0H2", "symbolSize": 702, "symbolStrokeWidth": 2.8, "symbolOffset": 10, "rowPadding": 8,
      "strokeColor": "#cccccc", "fillColor": "white", "cornerRadius": 6, "padding": 10
    }
  }
}
